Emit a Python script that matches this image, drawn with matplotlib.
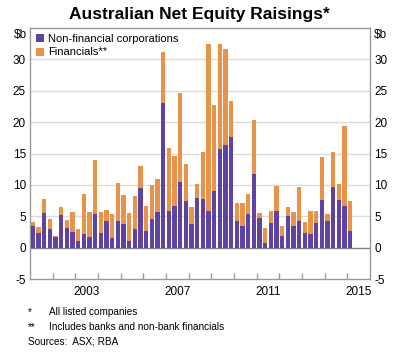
import matplotlib
matplotlib.use("Agg")
import matplotlib.pyplot as plt
import numpy as np

plt.rcParams['font.family'] = ['Liberation Sans', 'DejaVu Sans']

# Quarterly, 2001 Q1 .. 2015 Q1
start_year = 2001
nonfin = [3.5, 2.4, 5.5, 2.9, 1.7, 5.2, 3.2, 2.5, 1.1, 2.1, 1.7, 5.3,
          2.4, 4.3, 1.5, 4.2, 3.8, 1.0, 2.95, 9.5, 2.7, 4.5, 5.6, 23.0,
          5.8, 6.6, 10.5, 7.4, 3.75, 7.85, 7.7, 5.8, 9.0, 15.7, 16.4, 17.7,
          4.2, 3.4, 5.35, 11.8, 4.8, 0.8, 3.9, 5.8, 1.9, 5.1, 3.4, 4.2,
          2.4, 2.15, 3.9, 7.6, 4.3, 9.7, 7.6, 6.6, 2.7]
total = [4.1, 3.3, 7.7, 4.5, 1.8, 6.4, 4.4, 5.7, 2.9, 8.5, 5.6, 13.9,
         5.7, 6.0, 5.3, 10.3, 8.4, 5.5, 8.2, 13.0, 6.7, 10.0, 10.9, 31.1,
         15.9, 14.6, 24.6, 13.4, 6.4, 10.1, 15.2, 32.4, 22.7, 32.4, 31.7, 23.4,
         7.1, 7.1, 8.5, 20.3, 5.45, 3.1, 5.8, 9.9, 3.4, 6.4, 5.7, 9.7,
         4.07, 5.8, 5.8, 14.4, 5.4, 15.3, 10.1, 19.4, 7.5]
financials = [t - n for t, n in zip(total, nonfin)]
series_names = ["Non-financial corporations", "Financials**"]
year_labels = [2003, 2007, 2011, 2015]
y_ticks = [-5, 0, 5, 10, 15, 20, 25, 30]

purple = '#6042A0'
orange = '#E8924A'
grey = '#9a9a9a'

fig = plt.figure(figsize=(3.94, 3.59), dpi=100)
ax = fig.add_axes([30/394, 1-279/359, 340/394, (279-28)/359])

x = start_year + np.arange(len(nonfin)) / 4 + 0.125
ax.bar(x, nonfin, width=0.205, color=purple, label=series_names[0], zorder=3)
ax.bar(x, financials, width=0.205, bottom=nonfin, color=orange, label=series_names[1], zorder=3)

ax.set_xlim(2001, 2016)
ax.set_ylim(-5, 35)

for v in y_ticks:
    if v > 0:
        ax.axhline(v, color='#dcdcdc', lw=1.0, zorder=1)
ax.axhline(0, color='#808080', lw=1.0, zorder=2)

for s in ax.spines.values():
    s.set_color(grey)
    s.set_linewidth(1.0)

ax.set_yticks(y_ticks)
ax.set_yticklabels([str(v) for v in y_ticks])
ax.tick_params(axis='y', which='both', length=0, pad=3, labelsize=8.5,
               left=True, right=True, labelleft=True, labelright=True)

ax.set_xticks([y + 0.5 for y in year_labels])
ax.set_xticklabels([str(y) for y in year_labels])
ax.set_xticks(np.arange(2002, 2016), minor=True)
ax.tick_params(axis='x', which='major', length=0, pad=5, labelsize=8.5)
ax.tick_params(axis='x', which='minor', length=4, direction='in', color=grey, width=1)

ax.text(-0.01, 0.995, r'\$b', transform=ax.transAxes, ha='right', va='top', fontsize=8.5)
ax.text(1.01, 0.995, r'\$b', transform=ax.transAxes, ha='left', va='top', fontsize=8.5)

leg = ax.legend(loc='upper left', bbox_to_anchor=(0.0, 1.0), frameon=False,
                fontsize=8, handlelength=0.75, handleheight=0.75,
                handletextpad=0.35, labelspacing=0.3, borderpad=0.35,
                borderaxespad=0.2)

fig.text(199/394, 1-15/359, 'Australian Net Equity Raisings*', ha='center', va='center',
         fontsize=12.5, fontweight='bold')

fs = 7.2
fig.text(28/394, 1-312/359, '*', fontsize=fs, va='center')
fig.text(49/394, 1-312/359, 'All listed companies', fontsize=fs, va='center')
fig.text(28/394, 1-327/359, '**', fontsize=fs, va='center')
fig.text(49/394, 1-327/359, 'Includes banks and non-bank financials', fontsize=fs, va='center')
fig.text(28/394, 1-342/359, 'Sources:  ASX; RBA', fontsize=fs, va='center')

fig.savefig('out.png', dpi=100)
